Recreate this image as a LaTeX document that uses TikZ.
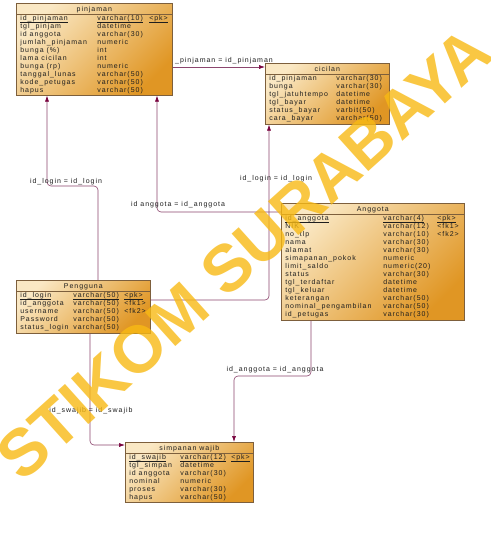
\documentclass[tikz,border=0pt]{standalone}
\usepackage{fontspec}
\usetikzlibrary{arrows.meta,positioning}
\newfontfamily\erfont[LetterSpace=14]{Liberation Sans}
\newfontfamily\wmfont{Liberation Sans}

\definecolor{erlight}{RGB}{250,232,196}
\definecolor{erdark}{RGB}{224,150,36}
\definecolor{erborder}{RGB}{125,95,60}
\definecolor{ertext}{RGB}{30,30,30}
\definecolor{relline}{RGB}{140,70,110}
\definecolor{relhead}{RGB}{120,0,60}
\definecolor{wmcolor}{RGB}{248,186,20}

\newcommand{\erhead}{\rule[-3.5pt]{0pt}{11.5pt}}
\newcommand{\keyul}[1]{\underline{\smash{#1}}}
\setlength{\tabcolsep}{0pt}

\tikzset{
  erbox/.style={draw=erborder, line width=0.6pt, inner sep=0pt, anchor=north west,
    top color=erlight, bottom color=erdark, shading angle=45, text=ertext,
    font=\erfont\fontsize{7}{8}\selectfont},
  rel/.style={draw=relline, line width=0.6pt, rounded corners=4pt,
    -{Latex[length=6pt,width=4pt,color=relhead]}},
  rellabel/.style={inner sep=0pt, text=ertext, font=\erfont\fontsize{7}{8}\selectfont},
  watermark/.style={text=wmcolor, opacity=0.8, font=\wmfont\bfseries\fontsize{66}{66}\selectfont}
}

\begin{document}
\begin{tikzpicture}[x=1pt,y=-1pt]
  \path[use as bounding box, fill=white] (0,0) rectangle (490,556);

  % tables
  \node[erbox] (pinjaman) at (16,3) {%
    \begin{tabular}{@{\hspace{4pt}}p{77pt}p{52pt}p{23pt}@{}}
      \multicolumn{3}{@{}c@{}}{\erhead pinjaman}\\
      \keyul{id\_pinjaman} & \keyul{varchar(10)} & \keyul{<pk>}\\
      tgl\_pinjam & datetime &\\
      id anggota & varchar(30) &\\
      jumlah\_pinjaman & numeric &\\
      bunga (\%) & int &\\
      lama cicilan & int &\\
      bunga (rp) & numeric &\\
      tanggal\_lunas & varchar(50) &\\
      kode\_petugas & varchar(50) &\\
      hapus & varchar(50) &\\[0.5pt]
    \end{tabular}};

  \node[erbox] (cicilan) at (265,63) {%
    \begin{tabular}{@{\hspace{4pt}}p{67pt}p{53pt}@{}}
      \multicolumn{2}{@{}c@{}}{\erhead cicilan}\\
      id\_pinjaman & varchar(30)\\
      bunga & varchar(30)\\
      tgl\_jatuhtempo & datetime\\
      tgl\_bayar & datetime\\
      status\_bayar & varbit(50)\\
      cara\_bayar & varchar(50)\\[1.5pt]
    \end{tabular}};

  \node[erbox] (anggota) at (281,203) {%
    \begin{tabular}{@{\hspace{4pt}}p{98pt}p{54pt}p{27pt}@{}}
      \multicolumn{3}{@{}c@{}}{\erhead Anggota}\\
      \keyul{id\_anggota} & \keyul{varchar(4)} & \keyul{<pk>}\\
      NIK & varchar(12) & <fk1>\\
      no\_tlp & varchar(10) & <fk2>\\
      nama & varchar(30) &\\
      alamat & varchar(30) &\\
      simapanan\_pokok & numeric &\\
      limit\_saldo & numeric(20) &\\
      status & varchar(30) &\\
      tgl\_terdaftar & datetime &\\
      tgl\_keluar & datetime &\\
      keterangan & varchar(50) &\\
      nominal\_pengambilan & varchar(50) &\\
      id\_petugas & varchar(30) &\\[1.5pt]
    \end{tabular}};

  \node[erbox] (pengguna) at (16,280) {%
    \begin{tabular}{@{\hspace{4pt}}p{53pt}p{51pt}p{26pt}@{}}
      \multicolumn{3}{@{}c@{}}{\erhead Pengguna}\\
      \keyul{id\_login} & \keyul{varchar(50)} & \keyul{<pk>}\\
      id\_anggota & varchar(50) & <fk1>\\
      username & varchar(50) & <fk2>\\
      Password & varchar(50) &\\
      status\_login & varchar(50) &\\[1.5pt]
    \end{tabular}};

  \node[erbox] (simpanan) at (125,442) {%
    \begin{tabular}{@{\hspace{4pt}}p{51pt}p{51pt}p{22pt}@{}}
      \multicolumn{3}{@{}c@{}}{\erhead simpanan wajib}\\
      \keyul{id\_swajib} & \keyul{varchar(12)} & \keyul{<pk>}\\
      tgl\_simpan & datetime &\\
      id anggota & varchar(30) &\\
      nominal & numeric &\\
      proses & varchar(30) &\\
      hapus & varchar(50) &\\[0.5pt]
    \end{tabular}};

  % header lines
  \foreach \t in {pinjaman,cicilan,anggota,pengguna,simpanan}
    \draw[erborder, line width=0.6pt] ([yshift=-11.3pt]\t.north west) -- ([yshift=-11.3pt]\t.north east);

  % relations
  \coordinate (c1) at ([yshift=-4pt]cicilan.north west);
  \draw[rel] (pinjaman.east |- c1) -- (c1);
  \node[rellabel, anchor=west] (l1) at (175,61) {\_pinjaman = id\_pinjaman};

  \coordinate (p1) at ([xshift=31pt]pinjaman.south west);
  \coordinate (g1) at ([xshift=82pt]pengguna.north west);
  \draw[rel] (g1) -- (g1 |- 0,186) -- (p1 |- 0,186) -- (p1);
  \node[rellabel] (l2) at (66,182) {id\_login = id\_login};

  \coordinate (a1) at ([yshift=-9pt]anggota.north west);
  \coordinate (p2) at ([xshift=141pt]pinjaman.south west);
  \draw[rel] (a1) -| (p2);
  \node[rellabel] (l3) at (178,205) {id anggota = id\_anggota};

  \coordinate (g2) at ([yshift=-20pt]pengguna.north east);
  \coordinate (c2) at ([xshift=4pt]cicilan.south west);
  \draw[rel] (g2) -| (c2);
  \node[rellabel] (l4) at (276,179) {id\_login = id\_login};

  \coordinate (a2) at ([xshift=30pt]anggota.south west);
  \coordinate (s1) at ([xshift=109pt]simpanan.north west);
  \draw[rel] (a2) -- (a2 |- 0,376) -- (s1 |- 0,376) -- (s1);
  \node[rellabel] (l5) at (275,370) {id\_anggota = id\_anggota};

  \coordinate (g3) at ([xshift=74pt]pengguna.south west);
  \coordinate (s2) at ([yshift=-3pt]simpanan.north west);
  \draw[rel] (g3) |- (s2);
  \node[rellabel] (l6) at (91,411) {id\_swajib = id\_swajib};

  % watermark
  \node[watermark, rotate=42] (wm) at (244,254) {STIKOM SURABAYA};
\end{tikzpicture}
\end{document}
